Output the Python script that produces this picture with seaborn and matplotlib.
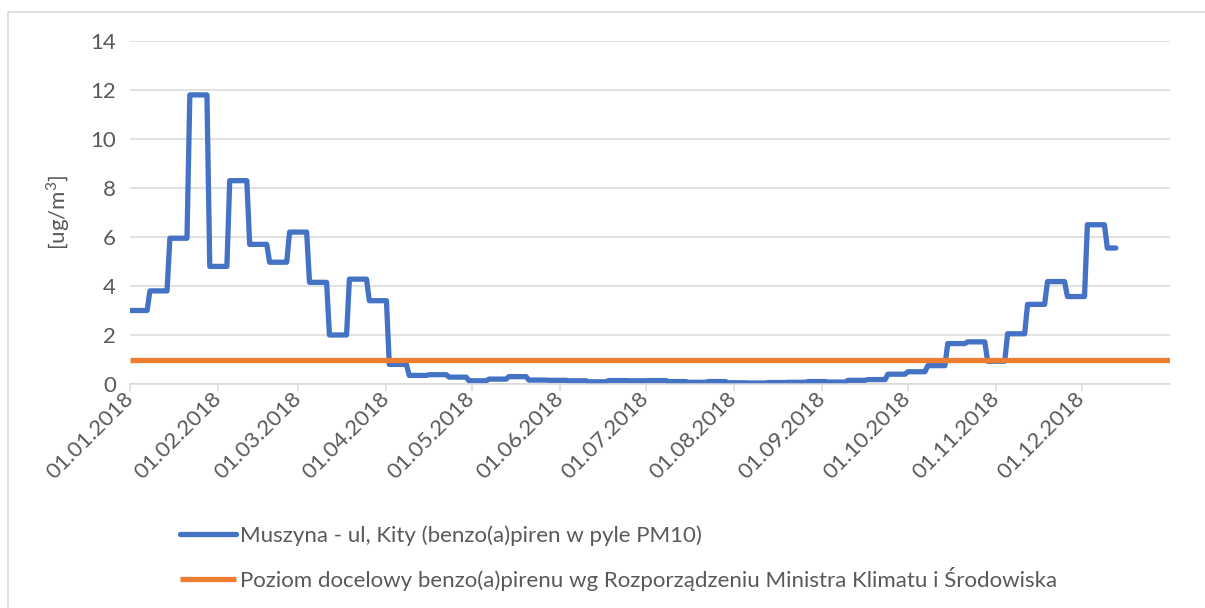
import numpy as np
import pandas as pd
import matplotlib
matplotlib.use("Agg")
import matplotlib.pyplot as plt
import matplotlib.dates as mdates
from matplotlib.patches import Rectangle
import seaborn as sns

# ---- data ----
start_date = "2018-01-01"
n_days = 347  # last measurement ~13.12.2018
weekly_values = [3.0, 3.8, 5.95, 11.8, 4.8, 8.3, 5.7, 4.97, 6.2, 4.15,
                 2.0, 4.28, 3.4, 0.8, 0.35, 0.38, 0.28, 0.13, 0.2, 0.3,
                 0.16, 0.15, 0.13, 0.09, 0.14, 0.13, 0.14, 0.1, 0.07, 0.1,
                 0.05, 0.04, 0.06, 0.07, 0.1, 0.08, 0.15, 0.18, 0.4, 0.5,
                 0.75, 1.65, 1.72, 0.93, 2.05, 3.25, 4.18, 3.57, 6.5, 5.55]
target_level = 1.0
series_label = "Muszyna - ul, Kity (benzo(a)piren w pyle PM10)"
target_label = "Poziom docelowy benzo(a)pirenu wg Rozporządzeniu Ministra Klimatu i Środowiska"
y_label = r"[ug/m$^\mathregular{3}$]"
y_ticks = [0, 2, 4, 6, 8, 10, 12, 14]
x_tick_dates = ["2018-01-01", "2018-02-01", "2018-03-01", "2018-04-01", "2018-05-01",
                "2018-06-01", "2018-07-01", "2018-08-01", "2018-09-01", "2018-10-01",
                "2018-11-01", "2018-12-01"]

dates = pd.date_range(start_date, periods=n_days, freq="D")
daily = np.repeat(weekly_values, 7)[:n_days]
df = pd.DataFrame({"date": dates, "value": daily})
df_target = pd.DataFrame({"date": pd.to_datetime(["2018-01-01", "2019-01-01"]),
                          "value": [target_level, target_level]})

# ---- style ----
sns.set_theme(style="white")
plt.rcParams["font.family"] = ["Lato", "DejaVu Sans"]
txt_color = "#595959"
grid_color = "#D9D9D9"
fs = 16

W, H = 1205, 608
fig = plt.figure(figsize=(W / 100, H / 100), dpi=100)
ax = fig.add_axes([130 / W, 1 - 384 / H, 1040 / W, (384 - 41) / H])

sns.lineplot(data=df, x="date", y="value", ax=ax, color="#4472C4", lw=3.8,
             label=series_label, solid_joinstyle="round", solid_capstyle="round")
sns.lineplot(data=df_target, x="date", y="value", ax=ax, color="#ED7D31", lw=3.8,
             label=target_label, solid_capstyle="butt")

ax.set_xlim(pd.Timestamp("2018-01-01"), pd.Timestamp("2019-01-01"))
ax.set_ylim(0, 14)
ax.set_yticks(y_ticks)
ax.yaxis.grid(True, color=grid_color, lw=1.1)
ax.xaxis.grid(False)
ax.set_axisbelow(True)

ax.set_xticks(pd.to_datetime(x_tick_dates))
ax.xaxis.set_major_formatter(mdates.DateFormatter("%d.%m.%Y"))
ax.set_xlabel("")
ax.set_ylabel(y_label, fontsize=fs, color=txt_color)
ax.yaxis.set_label_coords(-0.056, 0.5)

for s in ["top", "right", "left"]:
    ax.spines[s].set_visible(False)
ax.spines["bottom"].set_color(grid_color)
ax.spines["bottom"].set_linewidth(1.1)

ax.tick_params(axis="y", length=0, pad=10, labelsize=fs, labelcolor=txt_color)
ax.tick_params(axis="x", length=5, width=1.1, color=grid_color, direction="out",
               pad=3, labelsize=fs, labelcolor=txt_color, bottom=True)
for lab in ax.get_xticklabels():
    lab.set_rotation(45)
    lab.set_ha("right")
    lab.set_va("center")
    lab.set_rotation_mode("anchor")

ax.get_legend().remove()
h, l = ax.get_legend_handles_labels()
leg = fig.legend(h, l, loc="upper left", bbox_to_anchor=(180 / W, 1 - 525 / H),
                 frameon=False, fontsize=fs, handlelength=2.5, handletextpad=0.2,
                 labelspacing=0.95, borderaxespad=0, borderpad=0,
                 labelcolor=txt_color)

fig.patches.append(Rectangle((8 / W, -0.1), 1.2, 1 - 12 / H + 0.1, transform=fig.transFigure,
                             fill=False, edgecolor=grid_color, lw=1.2))

fig.savefig("out.png", dpi=100, facecolor="white")
